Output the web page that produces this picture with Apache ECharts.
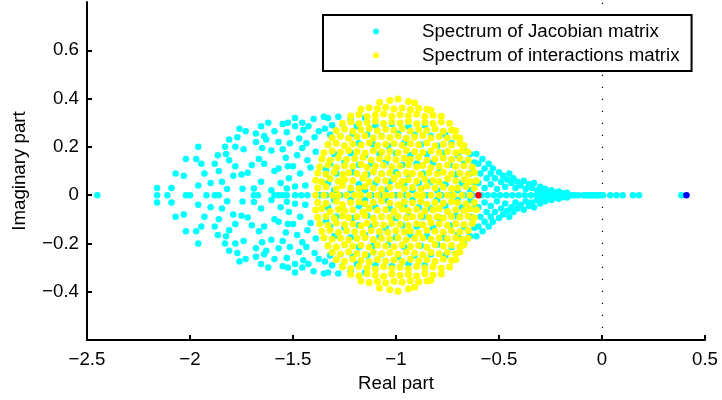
<!DOCTYPE html>
<html>
<head>
<meta charset="utf-8">
<script src="https://cdn.jsdelivr.net/npm/echarts@6.0.0/dist/echarts.min.js"></script>
<style>
  html, body { margin: 0; padding: 0; background: #fff; }
  #chart { width: 722px; height: 400px; }
</style>
</head>
<body>
<div id="chart"></div>
<script>
// tick values
const xTicks = [-2.5, -2, -1.5, -1, -0.5, 0, 0.5]
const yTicks = [-0.4, -0.2, 0, 0.2, 0.4, 0.6]

const legendNames = ['Spectrum of Jacobian matrix', 'Spectrum of interactions matrix']

// Jacobian spectrum, sparse left wing (x < -1.34)
const jacobianLeft = [
  [-2.45,0],[-2.16,0],[-2.11,0],[-2.02,0],[-2.0,0],[-1.92,0],[-1.88,0],[-1.86,0],[-1.69,0],[-1.67,0],
  [-1.59,0],[-1.57,0],[-1.55,0],[-1.53,0],[-1.49,0],[-1.46,0],[-1.43,0],
  [-2.16,0.03],[-2.09,0.03],[-2.07,0.09],[-2.03,0.08],[-2.02,0.15],[-1.97,0.15],[-1.96,0.2],[-1.945,0.13],
  [-1.96,0.04],[-1.93,0.09],[-1.9,0.05],[-1.88,0.13],[-1.86,0.1],[-1.865,0.165],[-1.845,0.055],[-1.83,0.2],
  [-1.825,0.17],[-1.82,0.025],[-1.81,0.23],[-1.81,0.145],[-1.79,0.08],[-1.78,0.2],[-1.78,0.12],[-1.77,0.24],
  [-1.76,0.275],[-1.75,0.085],[-1.745,0.026],[-1.74,0.19],[-1.73,0.265],[-1.72,0.093],[-1.7,0.125],[-1.69,0.028],
  [-1.68,0.22],[-1.68,0.255],[-1.665,0.15],[-1.655,0.055],[-1.655,0.285],[-1.65,0.195],[-1.64,0.245],[-1.63,0.23],
  [-1.64,0.13],[-1.62,0.3],[-1.605,0.185],[-1.605,0.02],[-1.59,0.265],[-1.59,0.1],[-1.57,0.22],[-1.57,0.11],
  [-1.56,0.05],[-1.55,0.295],[-1.55,0.19],[-1.53,0.26],[-1.525,0.3],[-1.535,0.155],[-1.53,0.027],[-1.525,0.12],
  [-1.52,0.07],[-1.515,0.215],[-1.49,0.32],[-1.49,0.285],[-1.5,0.12],[-1.49,0.036],[-1.48,0.165],[-1.47,0.235],
  [-1.465,0.09],[-1.455,0.3],[-1.45,0.27],[-1.455,0.195],[-1.435,0.215],[-1.43,0.145],[-1.44,0.04],[-1.425,0.285],
  [-1.415,0.115],[-1.4,0.315],[-1.395,0.24],[-1.39,0.18],[-1.375,0.265],[-1.35,0.325],[-1.345,0.275],[-1.34,0.105],
  [-2.16,-0.03],[-2.09,-0.03],[-2.07,-0.09],[-2.03,-0.08],[-2.02,-0.15],[-1.97,-0.15],[-1.96,-0.2],[-1.945,-0.13],
  [-1.96,-0.04],[-1.93,-0.09],[-1.9,-0.05],[-1.88,-0.13],[-1.86,-0.1],[-1.865,-0.165],[-1.845,-0.055],[-1.83,-0.2],
  [-1.825,-0.17],[-1.82,-0.025],[-1.81,-0.23],[-1.81,-0.145],[-1.79,-0.08],[-1.78,-0.2],[-1.78,-0.12],[-1.77,-0.24],
  [-1.76,-0.275],[-1.75,-0.085],[-1.745,-0.026],[-1.74,-0.19],[-1.73,-0.265],[-1.72,-0.093],[-1.7,-0.125],[-1.69,-0.028],
  [-1.68,-0.22],[-1.68,-0.255],[-1.665,-0.15],[-1.655,-0.055],[-1.655,-0.285],[-1.65,-0.195],[-1.64,-0.245],[-1.63,-0.23],
  [-1.64,-0.13],[-1.62,-0.3],[-1.605,-0.185],[-1.605,-0.02],[-1.59,-0.265],[-1.59,-0.1],[-1.57,-0.22],[-1.57,-0.11],
  [-1.56,-0.05],[-1.55,-0.295],[-1.55,-0.19],[-1.53,-0.26],[-1.525,-0.3],[-1.535,-0.155],[-1.53,-0.027],[-1.525,-0.12],
  [-1.52,-0.07],[-1.515,-0.215],[-1.49,-0.32],[-1.49,-0.285],[-1.5,-0.12],[-1.49,-0.036],[-1.48,-0.165],[-1.47,-0.235],
  [-1.465,-0.09],[-1.455,-0.3],[-1.45,-0.27],[-1.455,-0.195],[-1.435,-0.215],[-1.43,-0.145],[-1.44,-0.04],[-1.425,-0.285],
  [-1.415,-0.115],[-1.4,-0.315],[-1.395,-0.24],[-1.39,-0.18],[-1.375,-0.265],[-1.35,-0.325],[-1.345,-0.275],[-1.34,-0.105]
]

// Jacobian spectrum, behind the yellow disc
const jacobianCore = [
  [-1.37,0],[-1.34,0],[-1.31,0],[-1.27,0],[-1.24,0],[-1.2,0],[-1.12,0],[-1.08,0],[-1.0,0],[-0.95,0],
  [-0.85,0],[-0.78,0],[-0.73,0],[-0.67,0],[-0.63,0],
  [-1.33,0.32],[-1.28,0.325],[-1.22,0.315],[-1.15,0.32],
  [-1.31,0.29],[-1.26,0.295],[-1.19,0.285],[-1.1,0.29],[-1.02,0.295],[-0.94,0.285],[-0.86,0.29],
  [-1.32,0.25],[-1.27,0.245],[-1.21,0.255],[-1.14,0.25],[-1.07,0.245],[-0.99,0.255],[-0.91,0.25],[-0.83,0.245],[-0.76,0.25],
  [-1.33,0.21],[-1.25,0.205],[-1.18,0.215],[-1.11,0.21],[-1.04,0.205],[-0.96,0.215],[-0.88,0.21],[-0.8,0.205],[-0.73,0.215],[-0.67,0.2],
  [-1.3,0.17],[-1.22,0.175],[-1.15,0.165],[-1.08,0.17],[-1.0,0.175],[-0.93,0.165],[-0.85,0.17],[-0.77,0.175],[-0.7,0.165],[-0.64,0.17],
  [-1.32,0.13],[-1.25,0.135],[-1.18,0.125],[-1.12,0.13],[-1.05,0.135],[-0.97,0.125],[-0.9,0.13],[-0.82,0.135],[-0.74,0.125],[-0.67,0.13],[-0.62,0.135],
  [-1.29,0.09],[-1.21,0.095],[-1.14,0.085],[-1.07,0.09],[-1.0,0.095],[-0.94,0.085],[-0.87,0.09],[-0.79,0.095],[-0.71,0.085],[-0.64,0.09],
  [-1.33,0.05],[-1.26,0.055],[-1.18,0.045],[-1.1,0.05],[-1.03,0.055],[-0.96,0.045],[-0.89,0.05],[-0.83,0.055],[-0.76,0.045],[-0.68,0.05],[-0.62,0.055],
  [-1.3,0.02],[-1.22,0.02],[-1.15,0.02],[-1.05,0.02],[-0.92,0.02],[-0.8,0.02],[-0.7,0.02],[-0.64,0.02],
  [-1.33,-0.32],[-1.28,-0.325],[-1.22,-0.315],[-1.15,-0.32],
  [-1.31,-0.29],[-1.26,-0.295],[-1.19,-0.285],[-1.1,-0.29],[-1.02,-0.295],[-0.94,-0.285],[-0.86,-0.29],
  [-1.32,-0.25],[-1.27,-0.245],[-1.21,-0.255],[-1.14,-0.25],[-1.07,-0.245],[-0.99,-0.255],[-0.91,-0.25],[-0.83,-0.245],[-0.76,-0.25],
  [-1.33,-0.21],[-1.25,-0.205],[-1.18,-0.215],[-1.11,-0.21],[-1.04,-0.205],[-0.96,-0.215],[-0.88,-0.21],[-0.8,-0.205],[-0.73,-0.215],[-0.67,-0.2],
  [-1.3,-0.17],[-1.22,-0.175],[-1.15,-0.165],[-1.08,-0.17],[-1.0,-0.175],[-0.93,-0.165],[-0.85,-0.17],[-0.77,-0.175],[-0.7,-0.165],[-0.64,-0.17],
  [-1.32,-0.13],[-1.25,-0.135],[-1.18,-0.125],[-1.12,-0.13],[-1.05,-0.135],[-0.97,-0.125],[-0.9,-0.13],[-0.82,-0.135],[-0.74,-0.125],[-0.67,-0.13],[-0.62,-0.135],
  [-1.29,-0.09],[-1.21,-0.095],[-1.14,-0.085],[-1.07,-0.09],[-1.0,-0.095],[-0.94,-0.085],[-0.87,-0.09],[-0.79,-0.095],[-0.71,-0.085],[-0.64,-0.09],
  [-1.33,-0.05],[-1.26,-0.055],[-1.18,-0.045],[-1.1,-0.05],[-1.03,-0.055],[-0.96,-0.045],[-0.89,-0.05],[-0.83,-0.055],[-0.76,-0.045],[-0.68,-0.05],[-0.62,-0.055],
  [-1.3,-0.02],[-1.22,-0.02],[-1.15,-0.02],[-1.05,-0.02],[-0.92,-0.02],[-0.8,-0.02],[-0.7,-0.02],[-0.64,-0.02]
]

// Jacobian spectrum, cone and tail along the real axis
const jacobianTail = [
  [-0.585,0],[-0.555,0],[-0.525,0],[-0.495,0],[-0.465,0],[-0.435,0],[-0.405,0],[-0.375,0],[-0.345,0],[-0.315,0],
  [-0.285,0],[-0.255,0],[-0.225,0],[-0.2,0],[-0.18,0],[-0.16,0],[-0.145,0],[-0.13,0],[-0.115,0],[-0.09,0],
  [-0.08,0],[-0.07,0],[-0.06,0],[-0.05,0],[-0.04,0],[-0.03,0],[-0.02,0],[-0.01,0],[0.005,0],[0.04,0],
  [0.07,0],[0.1,0],[0.15,0],[0.18,0],[0.385,0],
  [-0.61,0.17],[-0.6,0.13],[-0.59,0.09],[-0.6,0.05],[-0.58,0.15],[-0.57,0.11],[-0.57,0.03],[-0.56,0.07],
  [-0.55,0.13],[-0.54,0.09],[-0.54,0.045],[-0.53,0.11],[-0.52,0.07],[-0.51,0.025],[-0.5,0.095],[-0.49,0.055],
  [-0.48,0.08],[-0.47,0.035],[-0.46,0.065],[-0.45,0.09],[-0.44,0.05],[-0.43,0.07],[-0.42,0.03],[-0.41,0.055],
  [-0.395,0.04],[-0.38,0.06],[-0.37,0.025],[-0.355,0.045],[-0.34,0.03],[-0.33,0.05],[-0.315,0.02],[-0.3,0.035],
  [-0.29,0.015],[-0.275,0.025],[-0.26,0.012],[-0.245,0.02],[-0.23,0.01],[-0.21,0.015],[-0.19,0.008],[-0.17,0.01],
  [-0.61,-0.17],[-0.6,-0.13],[-0.59,-0.09],[-0.6,-0.05],[-0.58,-0.15],[-0.57,-0.11],[-0.57,-0.03],[-0.56,-0.07],
  [-0.55,-0.13],[-0.54,-0.09],[-0.54,-0.045],[-0.53,-0.11],[-0.52,-0.07],[-0.51,-0.025],[-0.5,-0.095],[-0.49,-0.055],
  [-0.48,-0.08],[-0.47,-0.035],[-0.46,-0.065],[-0.45,-0.09],[-0.44,-0.05],[-0.43,-0.07],[-0.42,-0.03],[-0.41,-0.055],
  [-0.395,-0.04],[-0.38,-0.06],[-0.37,-0.025],[-0.355,-0.045],[-0.34,-0.03],[-0.33,-0.05],[-0.315,-0.02],[-0.3,-0.035],
  [-0.29,-0.015],[-0.275,-0.025],[-0.26,-0.012],[-0.245,-0.02],[-0.23,-0.01],[-0.21,-0.015],[-0.19,-0.008],[-0.17,-0.01]
]

// interactions matrix spectrum (yellow disc)
const interactionEigs = [
  [-1.39,0],[-1.35,0],[-1.31,0],[-1.28,0],[-1.24,0],[-1.2,0],[-1.17,0],[-1.13,0],[-1.09,0],[-1.05,0],[-1.02,0],
  [-0.98,0],[-0.94,0],[-0.9,0],[-0.87,0],[-0.83,0],[-0.79,0],[-0.75,0],[-0.72,0],[-0.68,0],[-0.64,0],
  [-1.38,0.03],[-1.34,0.035],[-1.29,0.025],[-1.26,0.04],[-1.22,0.03],[-1.18,0.028],[-1.15,0.036],[-1.11,0.03],[-1.07,0.024],[-1.03,0.033],[-0.99,0.04],
  [-0.96,0.028],[-0.92,0.032],[-0.88,0.026],[-0.85,0.038],[-0.81,0.03],[-0.77,0.034],[-0.73,0.027],[-0.7,0.03],[-0.66,0.036],[-0.62,0.03],
  [-1.39,0.062],[-1.36,0.055],[-1.32,0.068],[-1.28,0.058],[-1.25,0.065],[-1.21,0.06],[-1.16,0.07],[-1.13,0.055],[-1.09,0.063],[-1.05,0.06],[-1.01,0.067],
  [-0.97,0.057],[-0.94,0.064],[-0.9,0.058],[-0.86,0.066],[-0.82,0.061],[-0.79,0.055],[-0.75,0.068],[-0.71,0.06],[-0.67,0.064],[-0.64,0.056],[-0.61,0.06],
  [-1.38,0.092],[-1.34,0.088],[-1.3,0.095],[-1.26,0.086],[-1.23,0.093],[-1.19,0.09],[-1.15,0.085],[-1.11,0.096],[-1.07,0.089],[-1.03,0.092],[-0.99,0.087],
  [-0.95,0.094],[-0.92,0.09],[-0.88,0.086],[-0.84,0.093],[-0.8,0.089],[-0.77,0.095],[-0.73,0.088],[-0.69,0.091],[-0.65,0.087],[-0.62,0.094],
  [-1.37,0.118],[-1.33,0.125],[-1.29,0.115],[-1.25,0.122],[-1.21,0.12],[-1.17,0.127],[-1.14,0.116],[-1.1,0.12],[-1.06,0.124],[-1.02,0.117],
  [-0.98,0.121],[-0.94,0.126],[-0.9,0.118],[-0.87,0.123],[-0.83,0.115],[-0.79,0.12],[-0.75,0.125],[-0.71,0.119],[-0.67,0.122],[-0.63,0.117],
  [-1.36,0.15],[-1.32,0.145],[-1.28,0.155],[-1.24,0.148],[-1.2,0.152],[-1.16,0.157],[-1.12,0.146],[-1.08,0.151],[-1.04,0.154],[-1.0,0.147],
  [-0.96,0.153],[-0.93,0.149],[-0.89,0.156],[-0.85,0.145],[-0.81,0.15],[-0.77,0.154],[-0.73,0.148],[-0.69,0.152],[-0.65,0.146],
  [-1.35,0.176],[-1.31,0.183],[-1.27,0.178],[-1.23,0.185],[-1.19,0.18],[-1.15,0.175],[-1.11,0.184],[-1.07,0.179],[-1.03,0.182],[-0.99,0.176],
  [-0.95,0.185],[-0.91,0.18],[-0.87,0.177],[-0.83,0.183],[-0.79,0.178],[-0.75,0.181],[-0.71,0.176],[-0.68,0.184],[-0.65,0.179],
  [-1.33,0.21],[-1.29,0.215],[-1.25,0.205],[-1.21,0.212],[-1.17,0.208],[-1.13,0.216],[-1.09,0.206],[-1.05,0.211],[-1.01,0.214],
  [-0.97,0.207],[-0.93,0.213],[-0.89,0.209],[-0.85,0.216],[-0.81,0.205],[-0.77,0.211],[-0.73,0.208],[-0.69,0.214],[-0.67,0.206],
  [-1.31,0.238],[-1.27,0.244],[-1.23,0.236],[-1.19,0.242],[-1.15,0.246],[-1.11,0.237],[-1.07,0.243],[-1.03,0.239],[-0.99,0.245],
  [-0.95,0.236],[-0.91,0.241],[-0.87,0.247],[-0.83,0.238],[-0.79,0.243],[-0.75,0.237],[-0.71,0.242],[-0.69,0.236],
  [-1.29,0.268],[-1.25,0.274],[-1.21,0.265],[-1.17,0.271],[-1.13,0.276],[-1.09,0.267],[-1.05,0.273],[-1.01,0.269],
  [-0.97,0.275],[-0.93,0.266],[-0.89,0.272],[-0.85,0.268],[-0.81,0.274],[-0.77,0.265],[-0.73,0.27],[-0.71,0.267],
  [-1.26,0.298],[-1.22,0.304],[-1.18,0.296],[-1.14,0.302],[-1.1,0.306],[-1.06,0.297],[-1.02,0.303],
  [-0.98,0.299],[-0.94,0.305],[-0.9,0.296],[-0.86,0.301],[-0.82,0.297],[-0.78,0.303],[-0.74,0.298],
  [-1.22,0.328],[-1.18,0.334],[-1.14,0.326],[-1.1,0.332],[-1.06,0.336],[-1.02,0.327],
  [-0.98,0.333],[-0.94,0.329],[-0.9,0.335],[-0.86,0.326],[-0.82,0.331],[-0.78,0.327],
  [-1.17,0.356],[-1.13,0.362],[-1.09,0.358],[-1.05,0.364],[-1.01,0.357],[-0.97,0.361],[-0.93,0.355],[-0.89,0.36],[-0.85,0.356],[-0.83,0.352],
  [-1.08,0.385],[-1.03,0.392],[-0.99,0.398],[-0.94,0.388],[-0.91,0.382],
  [-1.38,-0.03],[-1.34,-0.035],[-1.29,-0.025],[-1.26,-0.04],[-1.22,-0.03],[-1.18,-0.028],[-1.15,-0.036],[-1.11,-0.03],[-1.07,-0.024],[-1.03,-0.033],[-0.99,-0.04],
  [-0.96,-0.028],[-0.92,-0.032],[-0.88,-0.026],[-0.85,-0.038],[-0.81,-0.03],[-0.77,-0.034],[-0.73,-0.027],[-0.7,-0.03],[-0.66,-0.036],[-0.62,-0.03],
  [-1.39,-0.062],[-1.36,-0.055],[-1.32,-0.068],[-1.28,-0.058],[-1.25,-0.065],[-1.21,-0.06],[-1.16,-0.07],[-1.13,-0.055],[-1.09,-0.063],[-1.05,-0.06],[-1.01,-0.067],
  [-0.97,-0.057],[-0.94,-0.064],[-0.9,-0.058],[-0.86,-0.066],[-0.82,-0.061],[-0.79,-0.055],[-0.75,-0.068],[-0.71,-0.06],[-0.67,-0.064],[-0.64,-0.056],[-0.61,-0.06],
  [-1.38,-0.092],[-1.34,-0.088],[-1.3,-0.095],[-1.26,-0.086],[-1.23,-0.093],[-1.19,-0.09],[-1.15,-0.085],[-1.11,-0.096],[-1.07,-0.089],[-1.03,-0.092],[-0.99,-0.087],
  [-0.95,-0.094],[-0.92,-0.09],[-0.88,-0.086],[-0.84,-0.093],[-0.8,-0.089],[-0.77,-0.095],[-0.73,-0.088],[-0.69,-0.091],[-0.65,-0.087],[-0.62,-0.094],
  [-1.37,-0.118],[-1.33,-0.125],[-1.29,-0.115],[-1.25,-0.122],[-1.21,-0.12],[-1.17,-0.127],[-1.14,-0.116],[-1.1,-0.12],[-1.06,-0.124],[-1.02,-0.117],
  [-0.98,-0.121],[-0.94,-0.126],[-0.9,-0.118],[-0.87,-0.123],[-0.83,-0.115],[-0.79,-0.12],[-0.75,-0.125],[-0.71,-0.119],[-0.67,-0.122],[-0.63,-0.117],
  [-1.36,-0.15],[-1.32,-0.145],[-1.28,-0.155],[-1.24,-0.148],[-1.2,-0.152],[-1.16,-0.157],[-1.12,-0.146],[-1.08,-0.151],[-1.04,-0.154],[-1.0,-0.147],
  [-0.96,-0.153],[-0.93,-0.149],[-0.89,-0.156],[-0.85,-0.145],[-0.81,-0.15],[-0.77,-0.154],[-0.73,-0.148],[-0.69,-0.152],[-0.65,-0.146],
  [-1.35,-0.176],[-1.31,-0.183],[-1.27,-0.178],[-1.23,-0.185],[-1.19,-0.18],[-1.15,-0.175],[-1.11,-0.184],[-1.07,-0.179],[-1.03,-0.182],[-0.99,-0.176],
  [-0.95,-0.185],[-0.91,-0.18],[-0.87,-0.177],[-0.83,-0.183],[-0.79,-0.178],[-0.75,-0.181],[-0.71,-0.176],[-0.68,-0.184],[-0.65,-0.179],
  [-1.33,-0.21],[-1.29,-0.215],[-1.25,-0.205],[-1.21,-0.212],[-1.17,-0.208],[-1.13,-0.216],[-1.09,-0.206],[-1.05,-0.211],[-1.01,-0.214],
  [-0.97,-0.207],[-0.93,-0.213],[-0.89,-0.209],[-0.85,-0.216],[-0.81,-0.205],[-0.77,-0.211],[-0.73,-0.208],[-0.69,-0.214],[-0.67,-0.206],
  [-1.31,-0.238],[-1.27,-0.244],[-1.23,-0.236],[-1.19,-0.242],[-1.15,-0.246],[-1.11,-0.237],[-1.07,-0.243],[-1.03,-0.239],[-0.99,-0.245],
  [-0.95,-0.236],[-0.91,-0.241],[-0.87,-0.247],[-0.83,-0.238],[-0.79,-0.243],[-0.75,-0.237],[-0.71,-0.242],[-0.69,-0.236],
  [-1.29,-0.268],[-1.25,-0.274],[-1.21,-0.265],[-1.17,-0.271],[-1.13,-0.276],[-1.09,-0.267],[-1.05,-0.273],[-1.01,-0.269],
  [-0.97,-0.275],[-0.93,-0.266],[-0.89,-0.272],[-0.85,-0.268],[-0.81,-0.274],[-0.77,-0.265],[-0.73,-0.27],[-0.71,-0.267],
  [-1.26,-0.298],[-1.22,-0.304],[-1.18,-0.296],[-1.14,-0.302],[-1.1,-0.306],[-1.06,-0.297],[-1.02,-0.303],
  [-0.98,-0.299],[-0.94,-0.305],[-0.9,-0.296],[-0.86,-0.301],[-0.82,-0.297],[-0.78,-0.303],[-0.74,-0.298],
  [-1.22,-0.328],[-1.18,-0.334],[-1.14,-0.326],[-1.1,-0.332],[-1.06,-0.336],[-1.02,-0.327],
  [-0.98,-0.333],[-0.94,-0.329],[-0.9,-0.335],[-0.86,-0.326],[-0.82,-0.331],[-0.78,-0.327],
  [-1.17,-0.356],[-1.13,-0.362],[-1.09,-0.358],[-1.05,-0.364],[-1.01,-0.357],[-0.97,-0.361],[-0.93,-0.355],[-0.89,-0.36],[-0.85,-0.356],[-0.83,-0.352],
  [-1.08,-0.385],[-1.03,-0.392],[-0.99,-0.398],[-0.94,-0.388],[-0.91,-0.382]
]

// highlighted eigenvalues
const interactionEdge = [[-0.6, 0]]
const jacobianLeading = [[0.41, 0]]

const fontFamily = '"Liberation Sans", Arial, Helvetica, sans-serif'
const fmt = (v) => (v < 0 ? '\u2212' + String(-v) : String(v))

const chart = echarts.init(document.getElementById('chart'))
chart.setOption({
  animation: false,
  backgroundColor: '#fff',
  textStyle: { fontFamily },
  grid: { left: 87, right: 17, top: 2, bottom: 60 },
  legend: {
    data: legendNames,
    z: 10,
    orient: 'vertical',
    left: 323,
    top: 15,
    padding: [7, 12, 6, 50],
    itemGap: 5,
    itemWidth: 82,
    itemHeight: 6,
    icon: 'circle',
    backgroundColor: '#fff',
    borderColor: '#000',
    borderWidth: 2,
    selectedMode: false,
    textStyle: { fontSize: 18.7, color: '#000', fontFamily, padding: 0 }
  },
  xAxis: {
    type: 'value',
    min: -2.5,
    max: 0.5,
    interval: 0.5,
    name: 'Real part',
    nameLocation: 'middle',
    nameGap: 32,
    nameTextStyle: { fontSize: 18.7, color: '#000', fontFamily },
    axisLine: { onZero: false, lineStyle: { color: '#000', width: 2 } },
    axisTick: { inside: true, length: 5, lineStyle: { color: '#000', width: 2 }, customValues: xTicks },
    axisLabel: { margin: 10, fontSize: 18.7, color: '#000', fontFamily, formatter: fmt, customValues: xTicks },
    splitLine: { show: false }
  },
  yAxis: {
    type: 'value',
    min: -0.6,
    max: 0.8,
    interval: 0.2,
    name: 'Imaginary part',
    nameLocation: 'middle',
    nameRotate: 90,
    nameGap: 58,
    nameTextStyle: { fontSize: 18.7, color: '#000', fontFamily },
    axisLine: { onZero: false, lineStyle: { color: '#000', width: 2 } },
    axisTick: { inside: true, length: 5, lineStyle: { color: '#000', width: 2 }, customValues: yTicks },
    axisLabel: { margin: 8, fontSize: 18.7, color: '#000', fontFamily, formatter: fmt, customValues: yTicks },
    splitLine: { show: false }
  },
  series: [
    {
      name: legendNames[0],
      type: 'scatter',
      symbol: 'circle',
      symbolSize: 6.5,
      itemStyle: { color: '#00ffff', opacity: 1 },
      emphasis: { disabled: true },
      data: jacobianLeft.concat(jacobianCore, jacobianTail),
      markLine: {
        silent: true,
        z: 1,
        symbol: 'none',
        label: { show: false },
        lineStyle: { color: '#000', width: 1.2, type: [1.2, 10.8] },
        data: [{ xAxis: 0 }]
      }
    },
    {
      name: legendNames[1],
      type: 'scatter',
      symbol: 'circle',
      symbolSize: 7,
      itemStyle: { color: '#ffff00', opacity: 1 },
      emphasis: { disabled: true },
      data: interactionEigs
    },
    {
      name: 'edge',
      type: 'scatter',
      symbolSize: 6.5,
      itemStyle: { color: '#ff0000', opacity: 1 },
      emphasis: { disabled: true },
      data: interactionEdge
    },
    {
      name: 'leading',
      type: 'scatter',
      symbolSize: 6.5,
      itemStyle: { color: '#0000ff', opacity: 1 },
      emphasis: { disabled: true },
      data: jacobianLeading
    }
  ]
})
</script>
</body>
</html>
